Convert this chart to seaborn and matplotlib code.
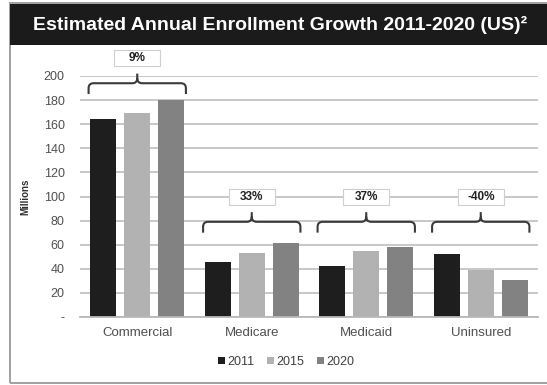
import matplotlib
matplotlib.use("Agg")
import matplotlib.pyplot as plt
import seaborn as sns
import pandas as pd
from matplotlib.patches import Rectangle, PathPatch
from matplotlib.path import Path

# ---- data ----
categories = ["Commercial", "Medicare", "Medicaid", "Uninsured"]
years = ["2011", "2015", "2020"]
values_2011 = [164, 46, 42, 52]
values_2015 = [169, 53, 55, 39]
values_2020 = [180, 61, 58, 31]
growth_labels = ["9%", "33%", "37%", "-40%"]
bracket_levels = [194, 79, 79, 79]
y_ticks = [0, 20, 40, 60, 80, 100, 120, 140, 160, 180, 200]
y_tick_labels = ["-", "20", "40", "60", "80", "100", "120", "140", "160", "180", "200"]
title = "Estimated Annual Enrollment Growth 2011-2020 (US)\u00b2"

sns.set_theme(style="white")
plt.rcParams["font.family"] = ["Liberation Sans", "DejaVu Sans"]

series = {"2011": values_2011, "2015": values_2015, "2020": values_2020}
rows = []
for yr in years:
    for cat, v in zip(categories, series[yr]):
        rows.append({"category": cat, "year": yr, "value": v})
df = pd.DataFrame(rows)

W, H = 547, 385
fig = plt.figure(figsize=(W / 100, H / 100), dpi=100)
fig.patch.set_facecolor("white")

# outer frame and title band
fig.patches.append(Rectangle((10 / W, 2 / H), (W + 10) / W, (H - 5) / H,
                             transform=fig.transFigure, fill=False,
                             edgecolor="#a0a0a0", lw=1.4))
fig.patches.append(Rectangle((10 / W, 1 - 45 / H), (W - 10) / W, 41 / H,
                             transform=fig.transFigure, facecolor="#1b1b1b",
                             edgecolor="none"))
fig.text(280 / W, 1 - 25 / H, title, color="white", fontweight="bold",
         fontsize=14, ha="center", va="center")

ax = fig.add_axes([80 / W, 1 - 317 / H, 458 / W, 241 / H])
palette = {"2011": "#1e1e1e", "2015": "#b2b2b2", "2020": "#828282"}
sns.barplot(data=df, x="category", y="value", hue="year", hue_order=years,
            order=categories, palette=palette, width=0.89, gap=0.23,
            saturation=1, linewidth=0, ax=ax)

ax.set_xlim(-0.5, len(categories) - 0.5)
ax.set_ylim(0, 200)
ax.set_yticks(y_ticks)
ax.set_yticklabels(y_tick_labels)
ax.yaxis.grid(True, color="#c4c4c4", lw=1.3)
ax.set_axisbelow(True)
for s in ["left", "right", "top"]:
    ax.spines[s].set_visible(False)
ax.spines["bottom"].set_color("#b8b8b8")
ax.spines["bottom"].set_linewidth(1.3)
ax.tick_params(axis="y", length=0, pad=11, labelsize=9, labelcolor="#505050")
ax.tick_params(axis="x", length=0, pad=7, labelsize=9.5, labelcolor="#505050")
ax.set_xlabel("")
ax.set_ylabel("Millions", fontsize=7, fontweight="bold", color="#303030")
ax.yaxis.set_label_coords(-50 / 458, 0.5)

# legend
handles, labels = ax.get_legend_handles_labels()
ax.legend_.remove()
leg = fig.legend(handles, labels, loc="center", bbox_to_anchor=(286 / W, 1 - 362 / H),
                 ncol=3, frameon=False, handlelength=0.55, handleheight=0.55,
                 handletextpad=0.2, columnspacing=1.0, fontsize=9)
for t in leg.get_texts():
    t.set_color("#404040")

# brackets with growth labels
px_x = 458 / len(categories)
px_y = 241 / 200
half = 0.425
rx, ry = 5 / px_x, 5 / px_y
drop, tick = 9, 8
for i, (lab, h) in enumerate(zip(growth_labels, bracket_levels)):
    c = i
    verts = [(c - half, h - drop), (c - half, h - ry), (c - half, h), (c - half + rx, h),
             (c - rx, h), (c, h), (c, h + ry), (c, h + tick),
             (c + half, h - drop), (c + half, h - ry), (c + half, h), (c + half - rx, h),
             (c + rx, h), (c, h), (c, h + ry)]
    codes = [Path.MOVETO, Path.LINETO, Path.CURVE3, Path.CURVE3,
             Path.LINETO, Path.CURVE3, Path.CURVE3, Path.LINETO,
             Path.MOVETO, Path.LINETO, Path.CURVE3, Path.CURVE3,
             Path.LINETO, Path.CURVE3, Path.CURVE3]
    ax.add_patch(PathPatch(Path(verts, codes), facecolor="none", edgecolor="#3a3a3a",
                           lw=1.5, clip_on=False, zorder=4))
    bw, bh = 46 / px_x, 16 / px_y
    yc = h + 21
    ax.add_patch(Rectangle((c - bw / 2, yc - bh / 2), bw, bh, facecolor="white",
                           edgecolor="#cfcfcf", lw=0.8, clip_on=False, zorder=4))
    ax.text(c, yc, lab, ha="center", va="center", fontsize=8.5, fontweight="bold",
            color="#222222", zorder=5, clip_on=False)

fig.savefig("out.png", dpi=100)
